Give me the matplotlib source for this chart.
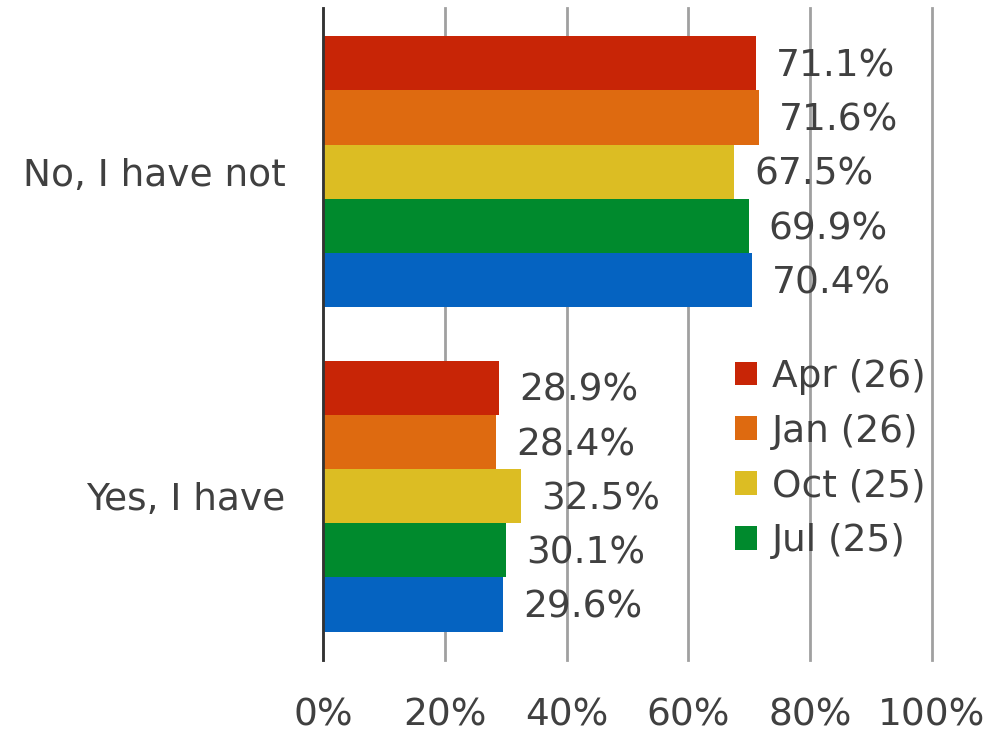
import matplotlib.pyplot as plt
import numpy as np

categories = ["Yes, I have", "No, I have not"]
series_names = ["Apr (26)", "Jan (26)", "Oct (25)", "Jul (25)", "Apr (25)"]
colors = ["#c82506", "#de6a10", "#dcbd23", "#008a2d", "#0563c1"]
# values per series: [Yes, No]
values = [
    [28.9, 71.1],
    [28.4, 71.6],
    [32.5, 67.5],
    [30.1, 69.9],
    [29.6, 70.4],
]

txt = "#404040"
fs = 27

fig = plt.figure(figsize=(9.9, 7.36), dpi=100)
ax = fig.add_axes([0.3263, 0.1033, 0.6151, 0.8857])

h = 0.167
y = np.arange(len(categories))
handles = []
for i, (name, vals) in enumerate(zip(series_names, values)):
    ypos = y + (2 - i) * h
    b = ax.barh(ypos, vals, height=h, color=colors[i], label=name, zorder=3)
    handles.append(b)
    for yy, v in zip(ypos, vals):
        ax.text(v + 3.3, yy - 0.01, f"{v:.1f}%", va="center", ha="left",
                fontsize=fs, color=txt)

ax.set_xlim(0, 100)
ax.set_ylim(-0.505, 1.504)
ax.set_xticks(range(0, 101, 20))
ax.set_xticklabels([f"{t}%" for t in range(0, 101, 20)])
ax.set_yticks(y)
ax.set_yticklabels(categories)
ax.tick_params(axis="x", length=0, pad=27, labelsize=fs, labelcolor=txt)
ax.tick_params(axis="y", length=0, pad=27, labelsize=fs, labelcolor=txt)
ax.grid(axis="x", color="#a0a0a0", linewidth=2, zorder=0)
for gl in ax.get_xgridlines():
    gl.set_clip_on(False)
for s in ["top", "right", "bottom"]:
    ax.spines[s].set_visible(False)
ax.spines["left"].set_color("#333333")
ax.spines["left"].set_linewidth(2)
ax.spines["left"].set_zorder(4)

ax.legend(handles=handles[:4], loc="upper left", bbox_to_anchor=(0.676, 0.462),
          frameon=False, fontsize=fs, labelcolor=txt, handlelength=0.6,
          handleheight=0.6, handletextpad=0.4, labelspacing=0.5,
          borderaxespad=0, borderpad=0)

fig.savefig("out.png", dpi=100)
